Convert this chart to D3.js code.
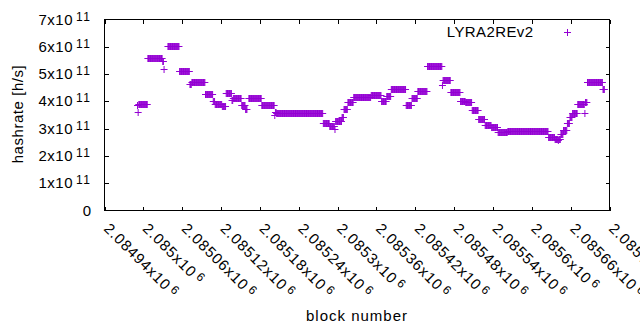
<!DOCTYPE html>
<html><head><meta charset="utf-8">
<script src="https://cdn.jsdelivr.net/npm/d3@7"></script>
<style>
body{margin:0;background:#fff}
text{font-family:"Liberation Sans",Arial,sans-serif;fill:#000}
</style>
</head><body>
<svg id="c" width="640" height="330"></svg>
<script>
// ---- data ----
const seriesName = "LYRA2REv2";
const xTicks = [2084940,2085000,2085060,2085120,2085180,2085240,2085300,2085360,2085420,2085480,2085540,2085600,2085660,2085720];
const xTickMantissa = ["2.08494","2.085","2.08506","2.08512","2.08518","2.08524","2.0853","2.08536","2.08542","2.08548","2.08554","2.0856","2.08566","2.08572"];
const xTickExponent = "6";
const yTicks = [0,1e11,2e11,3e11,4e11,5e11,6e11,7e11];
const yTickMantissa = ["0","1","2","3","4","5","6","7"];
const yTickExponent = "11";
// runs of consecutive blocks with the same hashrate (units of 1e11 h/s)
const runStart = [2084991,2084992,2084993,2085007,2085030,2085032,2085038,2085056,2085072,2085075,2085096,2085108,2085111,2085122,2085128,2085137,2085139,2085152,2085158,2085163,2085183,2085203,2085204,2085206,2085278,2085288,2085296,2085297,2085307,2085310,2085316,2085325,2085352,2085368,2085376,2085383,2085406,2085415,2085424,2085439,2085462,2085463,2085475,2085490,2085498,2085508,2085518,2085528,2085538,2085548,2085563,2085626,2085636,2085641,2085642,2085645,2085649,2085655,2085659,2085663,2085671,2085682,2085683,2085686,2085710];
const runEnd   = [2084991,2084992,2085006,2085029,2085031,2085032,2085055,2085071,2085074,2085095,2085107,2085110,2085121,2085127,2085136,2085138,2085151,2085157,2085160,2085182,2085202,2085203,2085205,2085277,2085287,2085295,2085296,2085306,2085309,2085315,2085324,2085351,2085367,2085375,2085382,2085405,2085414,2085423,2085438,2085461,2085462,2085474,2085489,2085497,2085507,2085517,2085527,2085537,2085547,2085562,2085625,2085635,2085640,2085641,2085644,2085648,2085654,2085658,2085662,2085670,2085681,2085682,2085685,2085709,2085712];
const runValue = [3.86,3.62,3.92,5.60,5.49,5.18,6.03,5.13,4.62,4.71,4.26,4.02,3.92,3.83,4.29,4.05,4.11,3.86,3.72,4.11,3.85,3.50,3.62,3.56,3.20,3.09,2.98,3.29,3.42,3.72,3.98,4.15,4.25,4.00,4.20,4.47,3.86,4.11,4.39,5.30,4.59,4.80,4.33,4.01,3.96,3.67,3.34,3.14,3.07,2.89,2.93,2.70,2.63,2.58,2.63,2.82,2.95,3.22,3.42,3.56,3.89,3.58,3.99,4.71,4.47];

const points = [];
runStart.forEach((s,i)=>{ for(let b=s;b<=runEnd[i];b++) points.push({block:b, value:runValue[i]*1e11}); });

// ---- chart ----
const svg = d3.select("#c");
const L=104.5, R=609.5, T=19.5, B=210.5;
const x = d3.scaleLinear().domain([2084940,2085720]).range([L,R]);
const y = d3.scaleLinear().domain([0,7e11]).range([B,T]);
const color = "#9400d3";
const tick = 4;

function ax(gen, tx, ty){
  const g = svg.append("g").attr("transform",`translate(${tx},${ty})`).call(gen);
  g.select(".domain").remove();
  g.selectAll(".tick line").attr("stroke","#000").attr("shape-rendering","crispEdges");
  g.selectAll(".tick text").remove();
}
ax(d3.axisBottom(x).tickValues(xTicks).tickSize(-tick).tickFormat(""),0,B);
ax(d3.axisTop(x).tickValues(xTicks).tickSize(-tick).tickFormat(""),0,T);
ax(d3.axisLeft(y).tickValues(yTicks.slice(1,-1)).tickSize(-tick).tickFormat(""),L,0);
ax(d3.axisRight(y).tickValues(yTicks.slice(1,-1)).tickSize(-tick).tickFormat(""),R,0);

// y tick labels
yTicks.forEach((v,i)=>{
  const t = svg.append("text").attr("x",91.5).attr("y",y(v)+5).attr("text-anchor","end")
    .style("font-size","15px").style("letter-spacing","0.5px");
  t.append("tspan").text(yTickMantissa[i] + (v===0?"":"x10"));
  if(v!==0) t.append("tspan").attr("dx",3).attr("dy",-4).style("font-size","12px").style("letter-spacing","1.5px").text(yTickExponent);
});

// x tick labels
xTicks.forEach((v,i)=>{
  const t = svg.append("text").attr("transform",`translate(${x(v)-1.5},229.5) rotate(45)`)
    .style("font-size","15px").style("letter-spacing","0.9px");
  t.append("tspan").text(xTickMantissa[i]+"x10");
  t.append("tspan").attr("dx",3).attr("dy",-4).style("font-size","12px").text(xTickExponent);
});

// axis titles
svg.append("text").attr("x",357).attr("y",320.7).attr("text-anchor","middle")
  .style("font-size","15px").style("letter-spacing","1px").text("block number");
svg.append("text").attr("transform","translate(23,114) rotate(-90)").attr("text-anchor","middle")
  .style("font-size","15px").style("letter-spacing","0.55px").text("hashrate [h/s]");

// points
const plus = "M-3.5,0H3.5M0,-3.5V3.5";
svg.append("g").selectAll("path").data(points).join("path")
  .attr("transform",d=>`translate(${x(d.block)},${Math.round(y(d.value))+0.5})`)
  .attr("d",plus).attr("fill","none").attr("stroke",color).attr("stroke-width",1);

// legend
svg.append("text").attr("x",533.5).attr("y",36.7).attr("text-anchor","end")
  .style("font-size","15px").style("letter-spacing","0.4px").text(seriesName);
svg.append("path").attr("transform","translate(567.5,32.5)").attr("d",plus)
  .attr("fill","none").attr("stroke",color).attr("stroke-width",1);

// frame
svg.append("rect").attr("x",L).attr("y",T).attr("width",R-L).attr("height",B-T)
  .attr("fill","none").attr("stroke","#000").attr("stroke-width",1);
</script>
</body></html>
